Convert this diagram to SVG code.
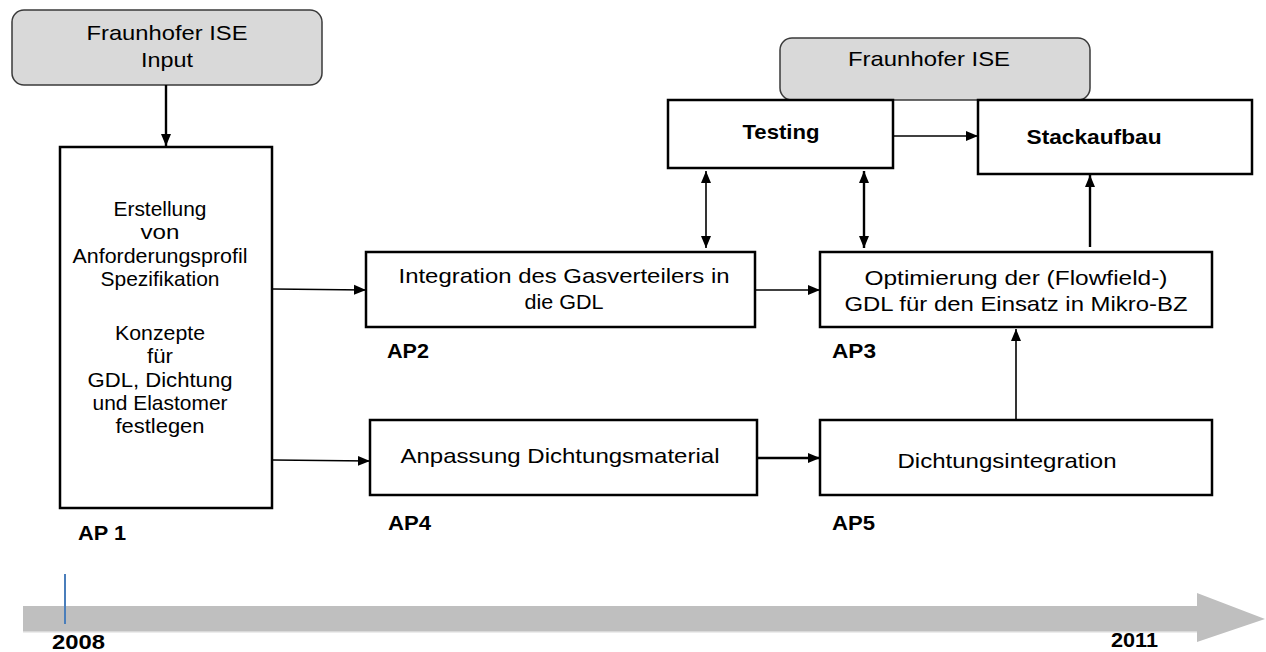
<svg xmlns="http://www.w3.org/2000/svg" width="1266" height="652" viewBox="0 0 1266 652">
<style>
.t{font-family:"Liberation Sans",Arial,sans-serif;font-size:21px;fill:#000;text-anchor:middle}
.b{font-weight:bold}
.lab{font-family:"Liberation Sans",Arial,sans-serif;font-size:20px;font-weight:bold;fill:#000}
.box{fill:#fff;stroke:#000;stroke-width:2.5}
.gbox{fill:#d9d9d9;stroke:#3a3a3a;stroke-width:1.5}
.c{fill:none;stroke:#000;stroke-width:1.6}
.c2{fill:none;stroke:#000;stroke-width:2.4}
</style>
<defs>
<marker id="ah" markerUnits="userSpaceOnUse" markerWidth="12" markerHeight="12" viewBox="0 0 12 12" refX="12" refY="6" orient="auto-start-reverse">
<path d="M0,1 L12,6 L0,11 Z" fill="#000"/>
</marker>
</defs>

<g id="timeline">
<rect x="23" y="630" width="1174" height="2.5" fill="#d9d9d9"/>
<path d="M23,606 H1197 V593 L1265,619 L1197,642 V631 H23 Z" fill="#bfbfbf"/>
<line x1="65" y1="574" x2="65" y2="624" stroke="#4a7ebb" stroke-width="2"/>
<text class="lab" x="52" y="649" font-size="19" textLength="53" lengthAdjust="spacingAndGlyphs">2008</text>
<text class="lab" x="1111" y="647" font-size="19" textLength="47" lengthAdjust="spacingAndGlyphs">2011</text>
</g>

<g id="input">
<rect class="gbox" x="12" y="10" width="310" height="75" rx="12"/>
<text class="t" x="167" y="40" font-size="19" textLength="161" lengthAdjust="spacingAndGlyphs">Fraunhofer ISE</text>
<text class="t" x="167" y="67" font-size="19" textLength="52" lengthAdjust="spacingAndGlyphs">Input</text>
</g>

<g id="fraunhofer">
<rect class="gbox" x="780" y="38" width="310" height="62" rx="12"/>
<text class="t" x="929" y="66" font-size="19" textLength="162" lengthAdjust="spacingAndGlyphs">Fraunhofer ISE</text>
</g>

<g id="ap1">
<rect class="box" x="60" y="147" width="212" height="361"/>
<text class="t" x="160" y="216" textLength="93" lengthAdjust="spacingAndGlyphs">Erstellung</text>
<text class="t" x="160" y="239" textLength="39" lengthAdjust="spacingAndGlyphs">von</text>
<text class="t" x="160" y="263" textLength="175" lengthAdjust="spacingAndGlyphs">Anforderungsprofil</text>
<text class="t" x="160" y="286" textLength="119" lengthAdjust="spacingAndGlyphs">Spezifikation</text>
<text class="t" x="160" y="340" textLength="90" lengthAdjust="spacingAndGlyphs">Konzepte</text>
<text class="t" x="160" y="363" textLength="26" lengthAdjust="spacingAndGlyphs">für</text>
<text class="t" x="160" y="387" textLength="145" lengthAdjust="spacingAndGlyphs">GDL, Dichtung</text>
<text class="t" x="160" y="410" textLength="135" lengthAdjust="spacingAndGlyphs">und Elastomer</text>
<text class="t" x="160" y="433" textLength="89" lengthAdjust="spacingAndGlyphs">festlegen</text>
<text class="lab" x="78" y="540" textLength="48" lengthAdjust="spacingAndGlyphs">AP 1</text>
</g>

<g id="ap2">
<rect class="box" x="366" y="252" width="389" height="75"/>
<text class="t" x="564" y="283" textLength="331" lengthAdjust="spacingAndGlyphs">Integration des Gasverteilers in</text>
<text class="t" x="564" y="309" textLength="79" lengthAdjust="spacingAndGlyphs">die GDL</text>
<text class="lab" x="387" y="358" textLength="42" lengthAdjust="spacingAndGlyphs">AP2</text>
</g>

<g id="ap3">
<rect class="box" x="820" y="252" width="392" height="75"/>
<text class="t" x="1016" y="285" textLength="303" lengthAdjust="spacingAndGlyphs">Optimierung der (Flowfield-)</text>
<text class="t" x="1016" y="311" textLength="343" lengthAdjust="spacingAndGlyphs">GDL für den Einsatz in Mikro-BZ</text>
<text class="lab" x="832" y="358" textLength="44" lengthAdjust="spacingAndGlyphs">AP3</text>
</g>

<g id="ap4">
<rect class="box" x="370" y="420" width="387" height="75"/>
<text class="t" x="560" y="463" textLength="319" lengthAdjust="spacingAndGlyphs">Anpassung Dichtungsmaterial</text>
<text class="lab" x="388" y="530" textLength="43" lengthAdjust="spacingAndGlyphs">AP4</text>
</g>

<g id="ap5">
<rect class="box" x="820" y="420" width="392" height="75"/>
<text class="t" x="1007" y="468" font-size="22" textLength="219" lengthAdjust="spacingAndGlyphs">Dichtungsintegration</text>
<text class="lab" x="832" y="530" textLength="43" lengthAdjust="spacingAndGlyphs">AP5</text>
</g>

<g id="testing">
<rect class="box" x="668" y="100" width="225" height="68"/>
<text class="t b" x="781" y="139" textLength="77" lengthAdjust="spacingAndGlyphs">Testing</text>
</g>

<g id="stackaufbau">
<rect class="box" x="978" y="100" width="274" height="74"/>
<text class="t b" x="1094" y="144" textLength="135" lengthAdjust="spacingAndGlyphs">Stackaufbau</text>
</g>

<g id="connectors">
<line class="c2" x1="166" y1="85" x2="166" y2="146" marker-end="url(#ah)"/>
<line class="c" x1="273" y1="289" x2="366" y2="290" marker-end="url(#ah)"/>
<line class="c" x1="273" y1="460" x2="370" y2="461" marker-end="url(#ah)"/>
<line class="c" x1="756" y1="290" x2="820" y2="290" marker-end="url(#ah)"/>
<line class="c2" x1="758" y1="458" x2="820" y2="458" marker-end="url(#ah)"/>
<line class="c" x1="1016" y1="420" x2="1016" y2="329" marker-end="url(#ah)"/>
<line class="c2" x1="1090" y1="247" x2="1090" y2="175" marker-end="url(#ah)"/>
<line class="c" x1="894" y1="136" x2="978" y2="136" marker-end="url(#ah)"/>
<line class="c" x1="706" y1="171" x2="706" y2="248" marker-start="url(#ah)" marker-end="url(#ah)"/>
<line class="c2" x1="864" y1="171" x2="864" y2="248" marker-start="url(#ah)" marker-end="url(#ah)"/>
</g>
</svg>
